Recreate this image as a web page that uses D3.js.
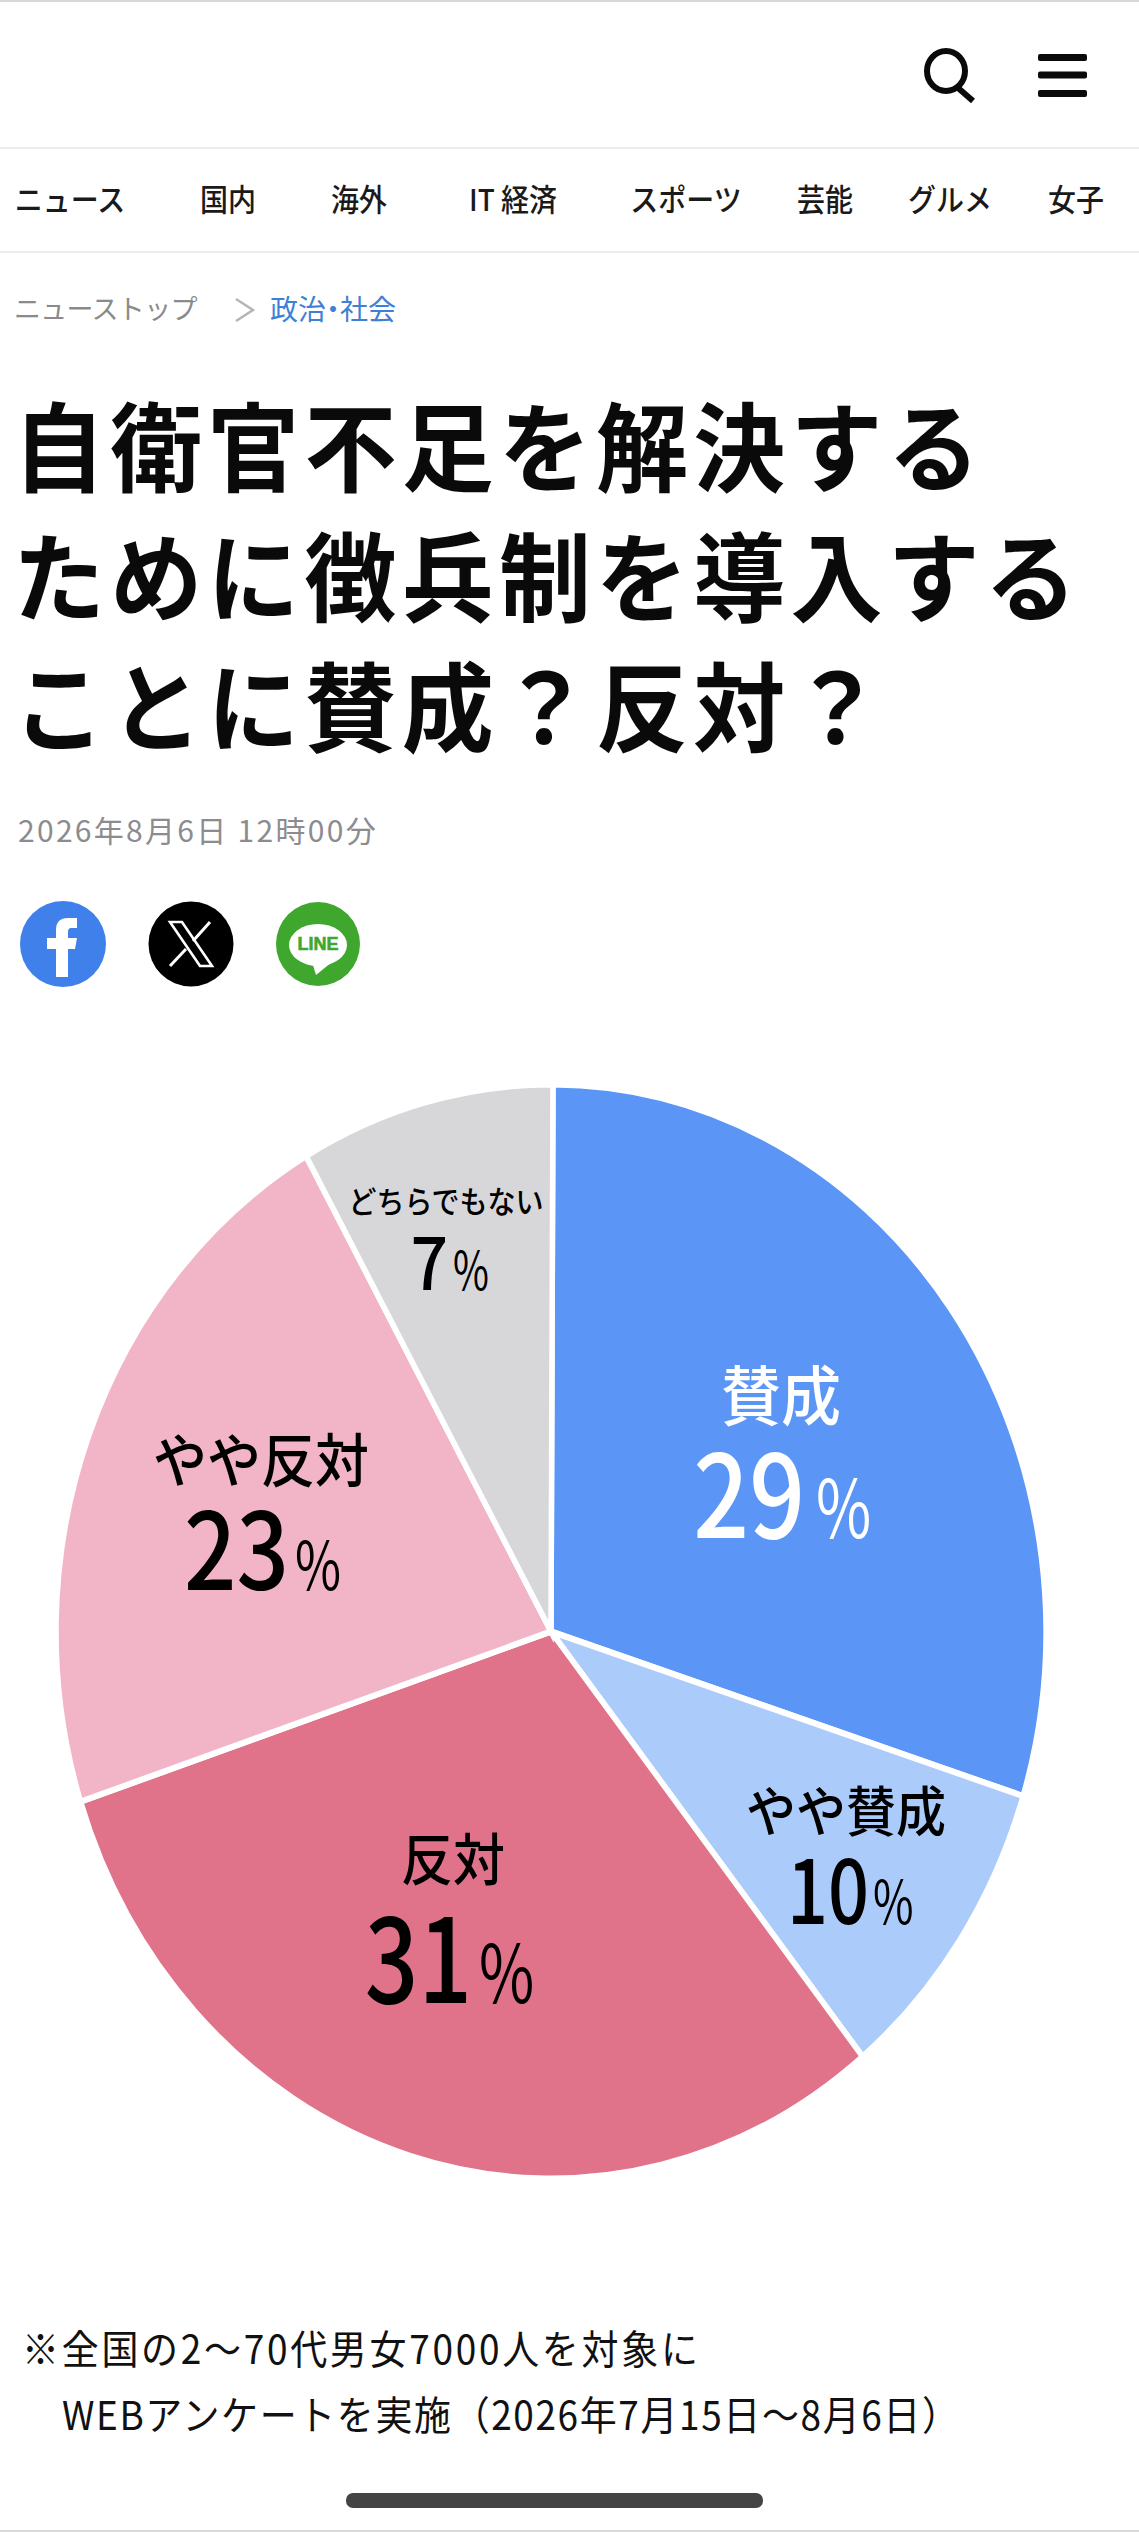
<!DOCTYPE html>
<html lang="ja"><head><meta charset="utf-8">
<script src="https://cdn.jsdelivr.net/npm/d3@7"></script>
<style>html,body{margin:0;padding:0;background:#fff}svg{display:block}</style></head>
<body><div id="c"></div>
<script>
const categories=["賛成","やや賛成","反対","やや反対","どちらでもない"];
const labelValues=[29,10,31,23,7];
const drawnShares=[29.8,9.3,30.8,21.8,8.3];
const colors=["#5b96f7","#abcbfa","#e0738a","#f2b5c8","#d7d7d9"];
const textColors=["#fff","#000","#000","#000","#000"];
const labelSizes=[60,50,52,54,28];
const labelPos=[[781,1420],[846,1832],[453,1880],[261,1482],[446,1213]];
const valueSizes=[98,72,94,92,66];
const valueSY=[1.17,1.22,1.24,1.16,1.08];
const valueRight=[805,869,472,289,448];
const pctLeft=[816,873,479,295,453];
const valueBase=[1538,1924,2003,1590,1290];
const pctSizes=[60,44,60,50,39];
const navItems=["ニュース","国内","海外","IT 経済","スポーツ","芸能","グルメ","女子"];
const navX=[70,228,359,513,686,825,950,1076];
const titleLines=["自衛官不足を解決する","ために徴兵制を導入する","ことに賛成？反対？"];
const titleY=[484,614,744];
const noteLines=["※全国の2～70代男女7000人を対象に","WEBアンケートを実施（2026年7月15日～8月6日）"];
const noteSpacing=[2.7,1.6];
const JP='"Noto Sans CJK JP","Noto Sans",sans-serif';

const svg=d3.select("#c").append("svg").attr("width",1139).attr("height",2532).attr("font-family",JP);
svg.append("rect").attr("width",1139).attr("height",2532).attr("fill","#fff");
svg.append("rect").attr("width",1139).attr("height",2).attr("fill","#d8d8d8");
svg.append("rect").attr("y",2530).attr("width",1139).attr("height",2).attr("fill","#d8d8d8");
[147,251].forEach(y=>svg.append("rect").attr("y",y).attr("width",1139).attr("height",2).attr("fill","#ececee"));
const place=(x,y,sy)=>`translate(${x},${y}) scale(1,${sy})`;

// header icons
const ic=svg.append("g").attr("fill","none").attr("stroke","#0a0a0a");
ic.append("ellipse").attr("cx",946).attr("cy",71).attr("rx",19).attr("ry",20).attr("stroke-width",6);
ic.append("line").attr("x1",957).attr("y1",87).attr("x2",973).attr("y2",101).attr("stroke-width",6);
[57.5,75,93.5].forEach(y=>svg.append("rect").attr("x",1038).attr("y",y-3.5).attr("width",49).attr("height",7).attr("rx",2).attr("fill","#0a0a0a"));

// nav
svg.append("g").selectAll("text").data(navItems).join("text")
 .attr("transform",(d,i)=>place(navX[i],211,1.08)).attr("text-anchor","middle")
 .attr("font-size",28).attr("font-weight",500).attr("fill","#1a1a1a").text(d=>d);
// breadcrumb
svg.append("text").attr("x",14).attr("y",319).attr("font-size",27).attr("fill","#8a8a8a").attr("letter-spacing",-0.7).text("ニューストップ");
svg.append("path").attr("d","M236 299L253 310L236 321").attr("fill","none").attr("stroke","#b5b5b5").attr("stroke-width",2.5);
svg.append("text").attr("x",270).attr("y",320).attr("font-size",28).attr("fill","#3f7fd6").style("font-feature-settings",'"palt"').text("政治・社会");
// title
svg.append("g").selectAll("text").data(titleLines).join("text")
 .attr("transform",(d,i)=>place(13,titleY[i],1.05)).attr("letter-spacing",5.2).attr("font-size",92).attr("font-weight",700).attr("fill","#0a0a0a").text(d=>d);
// date
svg.append("text").attr("x",18).attr("y",842).attr("font-size",30).attr("letter-spacing",2.3).attr("fill","#8c8c90").text("2026年8月6日 12時00分");
// share
const sh=svg.append("g");
sh.append("circle").attr("cx",63).attr("cy",944).attr("r",43).attr("fill","#3f80ea");
sh.append("path").attr("d","M56 977V949H47V938H56V930Q56 918 68 918H77V928H71Q68 928 68 932V938H77L75 949H68V977Z").attr("fill","#fff");
sh.append("circle").attr("cx",191).attr("cy",944).attr("r",42.5).attr("fill","#000");
sh.append("path").attr("d","M170 922L182 922L212 966L200 966Z").attr("fill","none").attr("stroke","#fff").attr("stroke-width",2.6);
sh.append("path").attr("d","M210 922L193 941M186 949L170 966").attr("fill","none").attr("stroke","#fff").attr("stroke-width",3);
sh.append("circle").attr("cx",318).attr("cy",944).attr("r",42).attr("fill","#3fa72e");
sh.append("ellipse").attr("cx",318).attr("cy",945).attr("rx",29).attr("ry",21).attr("fill","#fff");
sh.append("path").attr("d","M312 962L316 975L332 962Z").attr("fill","#fff");
sh.append("text").attr("x",318).attr("y",950).attr("text-anchor","middle").attr("font-size",18).attr("font-weight",700).attr("font-family","Liberation Sans").attr("stroke","#3fa72e").attr("stroke-width",.6).attr("fill","#3fa72e").text("LINE");

// pie (the picture is stretched vertically, so the arc is scaled)
const cx=551,cy=1631.5,rx=495,ry=547,startOffset=0.004;
const pie=d3.pie().sort(null).startAngle(startOffset).endAngle(2*Math.PI+startOffset).value(d=>d)(drawnShares);
const arc=d3.arc().innerRadius(0).outerRadius(rx);
svg.append("g").attr("transform",`translate(${cx},${cy}) scale(1,${ry/rx})`)
 .selectAll("path").data(pie).join("path").attr("d",arc)
 .attr("fill",(d,i)=>colors[i]).attr("stroke","#fff").attr("stroke-width",5.5);
svg.append("g").selectAll("text").data(categories).join("text")
 .attr("transform",(d,i)=>place(labelPos[i][0],labelPos[i][1],1.08)).attr("text-anchor","middle")
 .attr("font-size",(d,i)=>labelSizes[i]).attr("font-weight",500).attr("fill",(d,i)=>textColors[i]).text(d=>d);
svg.append("g").selectAll("text").data(labelValues).join("text")
 .attr("transform",(d,i)=>place(valueRight[i],valueBase[i],valueSY[i])).attr("text-anchor","end")
 .attr("font-size",(d,i)=>valueSizes[i]).attr("font-weight",500).attr("fill",(d,i)=>textColors[i]).text(d=>d);
svg.append("g").selectAll("text").data(labelValues).join("text")
 .attr("transform",(d,i)=>place(pctLeft[i],valueBase[i],1.35)).attr("text-anchor","start")
 .attr("font-size",(d,i)=>pctSizes[i]).attr("font-weight",400).attr("fill",(d,i)=>textColors[i]).text("%");

// note
svg.append("text").attr("transform",place(22,2364,1.08)).attr("letter-spacing",noteSpacing[0]).attr("font-size",37).attr("fill","#111").text(noteLines[0]);
svg.append("text").attr("transform",place(62,2430,1.08)).attr("letter-spacing",noteSpacing[1]).attr("font-size",37).attr("fill","#111").text(noteLines[1]);
svg.append("rect").attr("x",346).attr("y",2493).attr("width",417).attr("height",15).attr("rx",7).attr("fill","#444");
</script></body></html>
